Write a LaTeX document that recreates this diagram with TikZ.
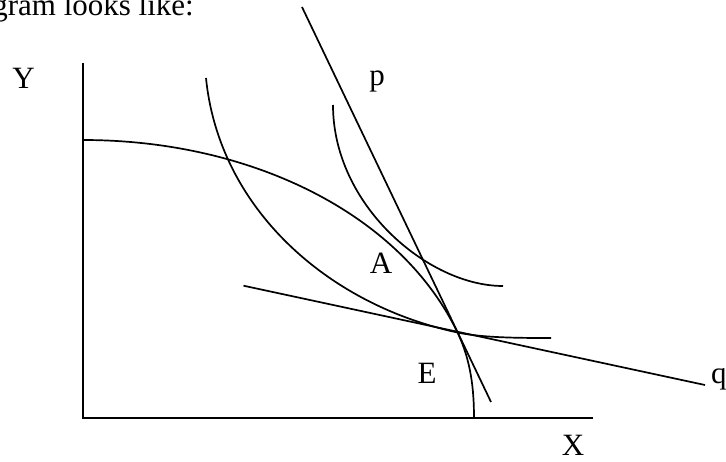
\documentclass[tikz,border=0pt]{standalone}
\usepackage{fontspec}
\setmainfont{Liberation Serif}
\begin{document}
\begin{tikzpicture}[x=1pt,y=-1pt,
  curve/.style={line width=1.7pt},
  axis/.style={line width=2.3pt, line join=miter},
  lbl/.style={font=\fontsize{31}{36}\selectfont, inner sep=0pt, anchor=base}]
\clip (0,0) rectangle (726,461);
\fill[white] (0,0) rectangle (726,461);
% axes
\coordinate (Ytop) at (83,63);
\coordinate (O) at (83,418);
\coordinate (Xend) at (593,418);
\draw[axis] (Ytop) -- (O) -- (Xend);
% key points
\coordinate (E) at (457.5,332.5);
\coordinate (PPFs) at (83,140);
\coordinate (PPFe) at (474,418);
\coordinate (ICas) at (206,78);
\coordinate (ICae) at (551,338);
\coordinate (ICbs) at (333,105);
\coordinate (ICbe) at (503,286);
\coordinate (Ps) at (302,7);
\coordinate (Pe) at (491,402);
\coordinate (Qs) at (243.5,285.7);
\coordinate (Qe) at (705,385);
% production frontier
\draw[curve] (PPFs) .. controls (252,140) and (401,214.5) .. (E)
             .. controls (470.9,360.5) and (474,389) .. (PPFe);
% indifference curves
\draw[curve] (ICas) .. controls (219,208) and (327,304.5) .. (E)
             .. controls (482.5,337.9) and (521,338) .. (ICae);
\draw[curve] (ICbs) .. controls (333,205) and (428,286) .. (ICbe);
% price lines
\draw[curve] (Ps) -- (Pe);
\draw[curve] (Qs) -- (Qe);
% labels
\node[lbl, anchor=base east] (cap) at (194,15) {gram looks like:};
\node[lbl] (ly) at (23.5,88) {Y};
\node[lbl] (lp) at (377,85) {p};
\node[lbl] (la) at (381,273) {A};
\node[lbl] (le) at (427,383) {E};
\node[lbl, anchor=base west] (lq) at (711,383) {q};
\node[lbl] (lx) at (573,455) {X};
\end{tikzpicture}
\end{document}
